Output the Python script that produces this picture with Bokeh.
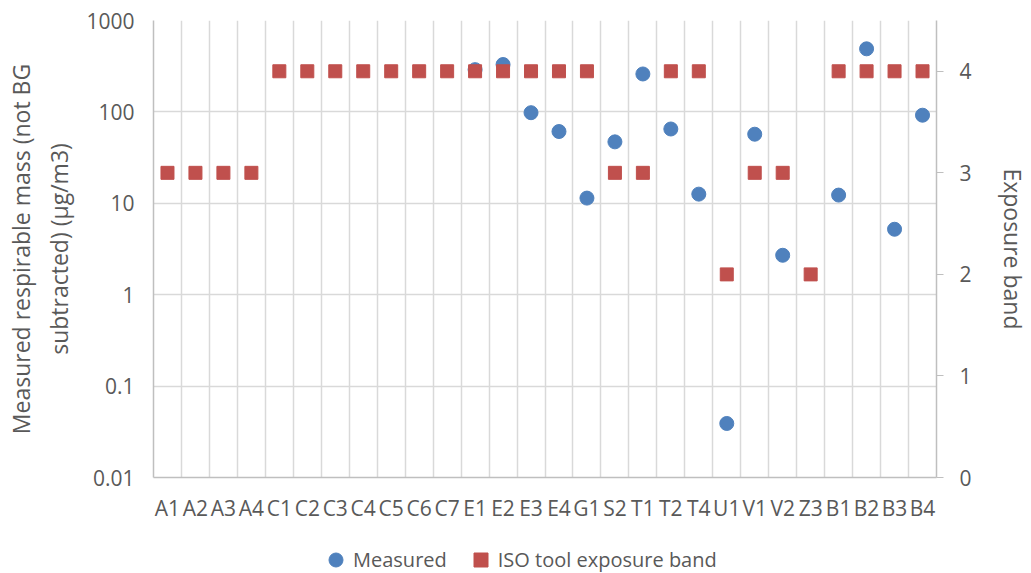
from bokeh.plotting import figure
from bokeh.layouts import column
from bokeh.models import (FactorRange, Range1d, LinearAxis, LinearScale, FixedTicker,
                          NumeralTickFormatter, ColumnDataSource, Legend, LegendItem)
from bokeh.embed import file_html
from bokeh.resources import INLINE

categories = ["A1", "A2", "A3", "A4", "C1", "C2", "C3", "C4", "C5", "C6", "C7",
              "E1", "E2", "E3", "E4", "G1", "S2", "T1", "T2", "T4", "U1", "V1",
              "V2", "Z3", "B1", "B2", "B3", "B4"]
measured = [None, None, None, None, None, None, None, None, None, None, None,
            290, 330, 98, 61, 11.4, 47, 260, 65, 12.6, 0.039, 57,
            2.7, None, 12.3, 490, 5.2, 92]
iso_band = [3, 3, 3, 3, 4, 4, 4, 4, 4, 4, 4,
            4, 4, 4, 4, 4, 3, 3, 4, 4, 2, 3,
            3, 2, 4, 4, 4, 4]
left_ticks = [0.01, 0.1, 1, 10, 100, 1000]
right_ticks = [0, 1, 2, 3, 4]

FONT = "Open Sans"
TXT = "#595959"
GRID = "#d9d9d9"
AXIS = "#bfbfbf"
BLUE = "#4f81bd"
RED = "#c0504d"

xr = FactorRange(factors=categories, range_padding=0)
p = figure(width=1031, height=530, x_range=xr,
           y_axis_type="log", y_range=Range1d(0.01, 1000),
           output_backend="svg", toolbar_location=None,
           min_border_left=153, min_border_right=91, min_border_top=20, min_border_bottom=53)
p.outline_line_color = None
p.extra_y_ranges = {"band": Range1d(0, 4.5)}
p.extra_y_scales = {"band": LinearScale()}

m_x = [c for c, v in zip(categories, measured) if v is not None]
m_y = [v for v in measured if v is not None]
src_m = ColumnDataSource(dict(x=m_x, y=m_y))
src_b = ColumnDataSource(dict(x=categories, y=iso_band))

p.scatter("x", "y", source=src_m, marker="circle", size=14,
          fill_color=BLUE, line_color=BLUE)
p.scatter("x", "y", source=src_b, marker="square", size=13, y_range_name="band",
          fill_color=RED, line_color=RED)

# left axis
ya = p.yaxis[0]
ya.ticker = FixedTicker(ticks=left_ticks)
ya.formatter = NumeralTickFormatter(format="0.[00]")
ya.axis_label = "Measured respirable mass (not BG\nsubtracted) (µg/m3)"
ya.major_tick_line_color = None
ya.major_tick_out = 0
ya.major_tick_in = 0
ya.minor_tick_line_color = None
ya.minor_tick_out = 0
ya.axis_line_color = AXIS
ya.major_label_standoff = 19

# x axis
xa = p.xaxis[0]
xa.major_tick_line_color = None
xa.major_tick_out = 0
xa.major_tick_in = 0
xa.axis_line_color = AXIS
xa.major_label_standoff = 16

# right axis
ra = LinearAxis(y_range_name="band", ticker=FixedTicker(ticks=right_ticks),
                axis_label="Exposure band")
ra.major_tick_in = 0
ra.major_tick_out = 7
ra.major_tick_line_color = AXIS
ra.minor_tick_line_color = None
ra.minor_tick_out = 0
ra.axis_line_color = AXIS
ra.major_label_standoff = 16
p.add_layout(ra, "right")

for ax in [ya, xa, ra]:
    ax.major_label_text_font = FONT
    ax.major_label_text_font_size = "21px"
    ax.major_label_text_color = TXT
    ax.axis_label_text_font = FONT
    ax.axis_label_text_font_size = "23px"
    ax.axis_label_text_font_style = "normal"
    ax.axis_label_text_color = TXT
    ax.axis_line_width = 1.5
ya.axis_label_standoff = 8
ra.axis_label_standoff = 22

p.ygrid.grid_line_color = GRID
p.ygrid.grid_line_width = 1.5
p.ygrid.minor_grid_line_color = None
p.xgrid.ticker = FixedTicker(ticks=list(range(len(categories) + 1)))
p.xgrid.grid_line_color = GRID
p.xgrid.grid_line_width = 1.5

# legend strip below the chart (series are out of its view; only the legend shows)
pl = figure(width=1031, height=43, x_range=xr, y_range=Range1d(-2, -1),
            x_axis_location=None, y_axis_location=None,
            output_backend="svg", toolbar_location=None,
            min_border_left=0, min_border_right=0, min_border_top=0, min_border_bottom=0)
pl.outline_line_color = None
pl.grid.visible = False
lm = pl.scatter("x", "y", source=src_m, marker="circle", size=14,
                fill_color=BLUE, line_color=BLUE)
lb = pl.scatter("x", "y", source=src_b, marker="square", size=13,
                fill_color=RED, line_color=RED)
legend = Legend(items=[LegendItem(label="Measured", renderers=[lm]),
                       LegendItem(label="ISO tool exposure band", renderers=[lb])],
                orientation="horizontal", location=(165, -4),
                label_text_font=FONT, label_text_font_size="20px", label_text_color=TXT,
                border_line_color=None, background_fill_alpha=0,
                spacing=16, glyph_width=35, glyph_height=35, label_standoff=0,
                padding=0, margin=0)
pl.add_layout(legend, "center")

open("out.html", "w").write(file_html(column(p, pl), INLINE))
